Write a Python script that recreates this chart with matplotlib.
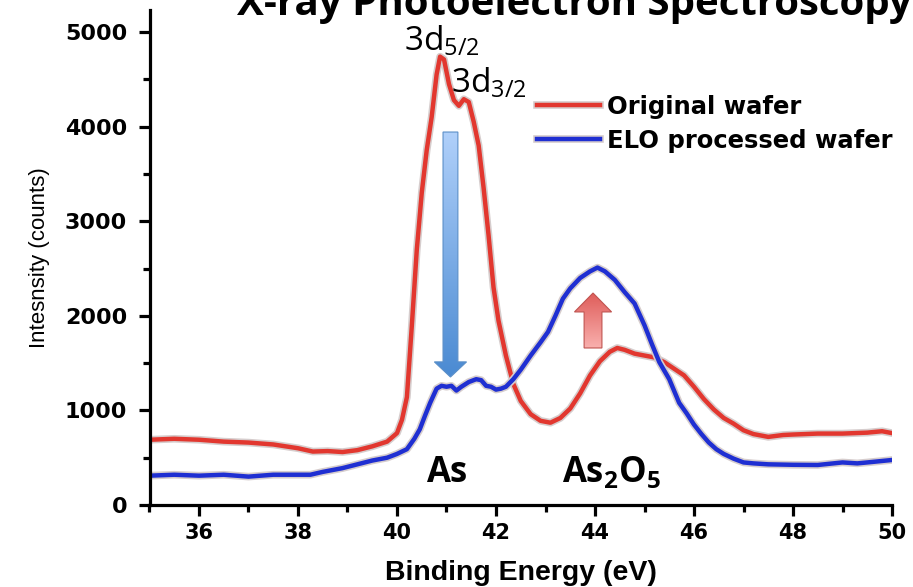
import matplotlib
matplotlib.use("Agg")
import matplotlib.pyplot as plt
import matplotlib.patheffects as pe
import numpy as np
from matplotlib.lines import Line2D
from matplotlib.patches import FancyArrow
from matplotlib.ticker import MultipleLocator

plt.rcParams["mathtext.fontset"] = "custom"
plt.rcParams["mathtext.rm"] = "Open Sans"
plt.rcParams["mathtext.it"] = "Open Sans"
plt.rcParams["mathtext.bf"] = "Open Sans:bold"
plt.rcParams["mathtext.default"] = "regular"

# Original wafer (red)
orig_energy = [35.0, 35.5, 36.0, 36.5, 37.0, 37.5, 38.0, 38.3, 38.6, 38.9, 39.2, 39.5,
               39.8, 40.0, 40.1, 40.2, 40.3, 40.4, 40.5, 40.6, 40.7, 40.8, 40.87, 40.95,
               41.05, 41.15, 41.25, 41.35, 41.45, 41.55, 41.65, 41.75, 41.85, 41.95, 42.05,
               42.2, 42.35, 42.5, 42.7, 42.9, 43.1, 43.3, 43.5, 43.7, 43.9, 44.1, 44.3,
               44.45, 44.6, 44.8, 45.0, 45.2, 45.4, 45.6, 45.8, 46.0, 46.2, 46.4, 46.6,
               46.8, 47.0, 47.2, 47.5, 47.8, 48.0, 48.5, 49.0, 49.5, 49.8, 50.0]
orig_counts = [690, 700, 690, 670, 660, 640, 600, 565, 570, 560, 580, 620,
               670, 760, 900, 1140, 1900, 2700, 3300, 3750, 4100, 4550, 4740, 4710,
               4450, 4280, 4220, 4290, 4260, 4050, 3800, 3350, 2850, 2300, 1950,
               1580, 1280, 1100, 960, 890, 870, 920, 1020, 1180, 1370, 1520, 1620,
               1660, 1640, 1600, 1580, 1560, 1510, 1440, 1370, 1250, 1120, 1010, 920,
               860, 790, 750, 720, 740, 745, 755, 755, 765, 780, 760]

# ELO processed wafer (blue)
elo_energy = [35.0, 35.5, 36.0, 36.5, 37.0, 37.5, 38.0, 38.25, 38.5, 38.9, 39.2, 39.5,
              39.8, 40.0, 40.2, 40.35, 40.46, 40.57, 40.67, 40.8, 40.9, 41.0, 41.1, 41.2,
              41.3, 41.45, 41.6, 41.7, 41.8, 41.9, 42.0, 42.1, 42.2, 42.35, 42.5, 42.7,
              42.9, 43.05, 43.2, 43.35, 43.5, 43.7, 43.9, 44.05, 44.2, 44.4, 44.6, 44.8,
              45.0, 45.15, 45.3, 45.5, 45.7, 45.85, 46.0, 46.15, 46.3, 46.45, 46.6, 46.8,
              47.0, 47.2, 47.5, 48.0, 48.5, 49.0, 49.3, 49.6, 50.0]
elo_counts = [310, 320, 310, 320, 300, 320, 320, 320, 350, 390, 430, 470,
              500, 540, 590, 700, 800, 950, 1080, 1230, 1260, 1250, 1260, 1210,
              1250, 1300, 1330, 1320, 1260, 1250, 1220, 1230, 1250, 1330, 1430, 1580,
              1720, 1830, 2000, 2180, 2290, 2400, 2470, 2510, 2470, 2380, 2250, 2130,
              1900, 1700, 1510, 1330, 1080, 970, 850, 750, 660, 590, 540, 490,
              450, 440, 430, 425, 423, 450, 440, 455, 476]

RED = "#e2372f"
BLUE = "#1f2fd2"
HALO = [pe.withStroke(linewidth=5.5, foreground="#d6cdcd")]

fig = plt.figure(figsize=(9.13, 5.87), dpi=100)
ax = fig.add_axes([149.5 / 913, 82 / 587, 742.5 / 913, 495 / 587])

ax.plot(orig_energy, orig_counts, color=RED, linewidth=3.2, path_effects=HALO)
ax.plot(elo_energy, elo_counts, color=BLUE, linewidth=3.2, path_effects=HALO)


def gradient_arrow(x, y, dy, width, head_width, head_length, top_color, bottom_color, edge):
    arrow = FancyArrow(x, y, 0, dy, width=width, head_width=head_width,
                       head_length=head_length, length_includes_head=True,
                       facecolor="none", edgecolor=edge, linewidth=0.8, zorder=4)
    ax.add_patch(arrow)
    grad = np.linspace(0, 1, 256).reshape(-1, 1)
    cmap = matplotlib.colors.LinearSegmentedColormap.from_list("g", [bottom_color, top_color])
    y0, y1 = min(y, y + dy), max(y, y + dy)
    im = ax.imshow(grad, extent=[x - head_width / 2, x + head_width / 2, y0, y1],
                   origin="lower", cmap=cmap, aspect="auto", zorder=3)
    im.set_clip_path(arrow)


gradient_arrow(41.08, 3943, -2590, 0.30, 0.65, 160, "#b0d0fa", "#4a8ad2", "#5b8fc8")
gradient_arrow(43.96, 1660, 581, 0.36, 0.75, 200, "#df5d5a", "#f9b0ae", "#c05450")

ax.set_xlim(35, 50)
ax.set_ylim(0, 5233)

for side in ("top", "right"):
    ax.spines[side].set_visible(False)
for side in ("left", "bottom"):
    ax.spines[side].set_linewidth(2.3)

ax.xaxis.set_major_locator(MultipleLocator(2))
ax.xaxis.set_minor_locator(MultipleLocator(1))
ax.yaxis.set_major_locator(MultipleLocator(1000))
ax.yaxis.set_minor_locator(MultipleLocator(500))
ax.tick_params(which="major", direction="out", length=8, width=2.3, pad=5)
ax.tick_params(axis="y", which="major", pad=8)
ax.tick_params(which="minor", direction="out", length=5, width=2.3)
for lab in ax.get_xticklabels():
    lab.set_fontfamily("DejaVu Sans")
    lab.set_fontweight("bold")
    lab.set_fontsize(15)
for lab in ax.get_yticklabels():
    lab.set_fontfamily("DejaVu Sans")
    lab.set_fontweight("bold")
    lab.set_fontsize(16)

ax.set_xlabel("Binding Energy (eV)", fontfamily="Liberation Sans", fontweight="bold",
              fontsize=20.5, labelpad=12)
ax.set_ylabel("Intesnsity (counts)", fontfamily="Liberation Sans", fontsize=16, labelpad=11)

# peak / species annotations
ax.text(40.15, 4800, "3d$_{5/2}$", fontfamily="Open Sans", fontsize=24, ha="left", va="baseline")
ax.text(41.1, 4360, "3d$_{3/2}$", fontfamily="Open Sans", fontsize=24, ha="left", va="baseline")
ax.text(40.58, 240, "$\\mathbf{As}$", fontsize=25, ha="left", va="baseline")
ax.text(43.33, 240, "$\\mathbf{As_2O_5}$", fontsize=25, ha="left", va="baseline")

handles = [Line2D([], [], color=RED, linewidth=3.2, path_effects=HALO),
           Line2D([], [], color=BLUE, linewidth=3.2, path_effects=HALO)]
ax.legend(handles, ["Original wafer", "ELO processed wafer"], loc="upper left",
          bbox_to_anchor=((537 - 149.5) / 742.5, (505 - 95) / 495), frameon=False,
          prop={"family": "DejaVu Sans", "weight": "bold", "size": 17.5},
          handlelength=2.6, handletextpad=0.3, labelspacing=0.4,
          borderpad=0, borderaxespad=0)

fig.text(237 / 913, 1 - 15 / 587, "X-ray Photoelectron Spectroscopy", fontfamily="Open Sans",
         fontweight="bold", fontsize=29, ha="left", va="baseline")

fig.savefig("out.png", dpi=100)
